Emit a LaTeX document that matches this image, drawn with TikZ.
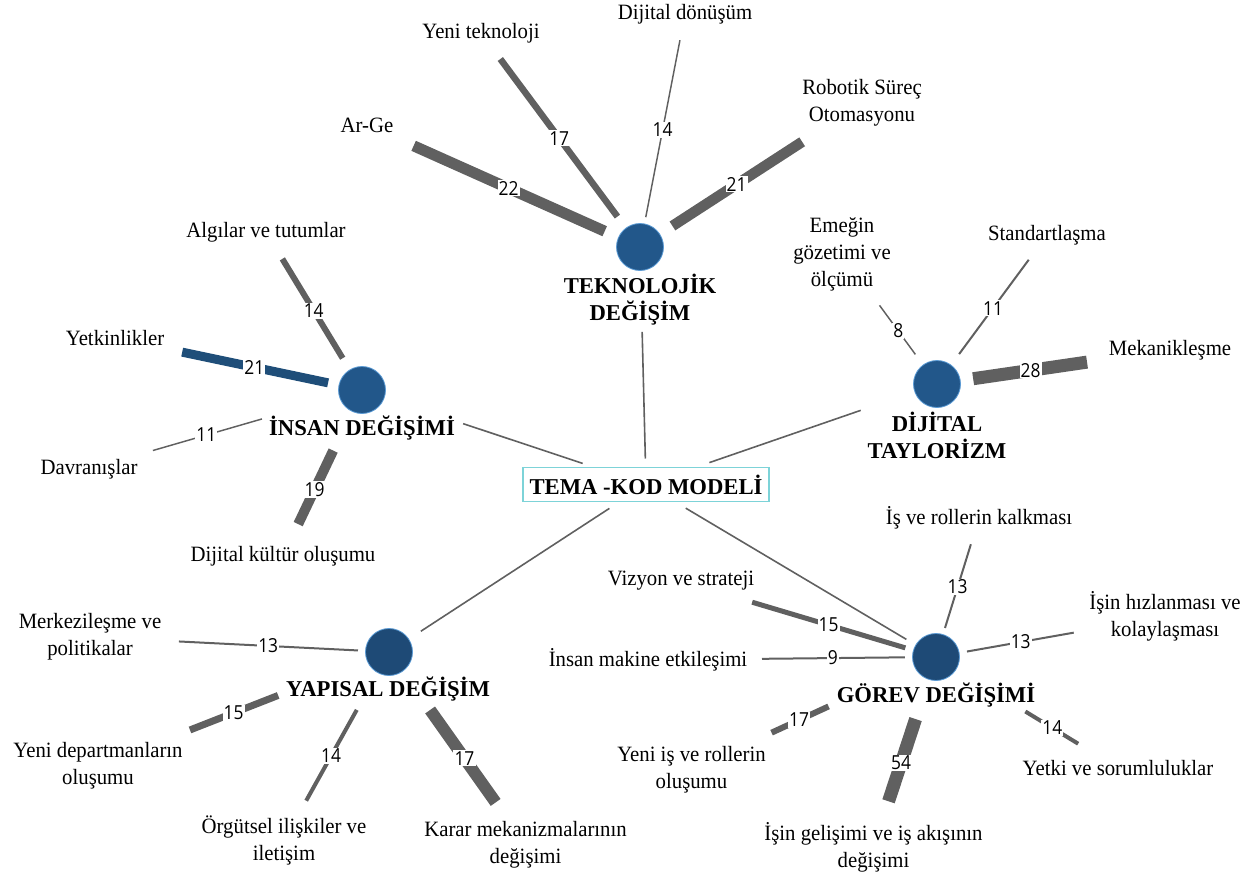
\documentclass[tikz,border=0pt]{standalone}
\usepackage{fontspec}
\setmainfont{Liberation Serif}
\newfontfamily\leaffont[FakeStretch=0.95]{Liberation Serif}
\newfontfamily\numfont[FakeStretch=0.9]{Open Sans}
\definecolor{hubblue}{HTML}{22578A}
\definecolor{hubdark}{HTML}{1E4A76}
\definecolor{hubedge}{HTML}{5B9BD5}
\definecolor{linkgray}{HTML}{606060}
\definecolor{navybar}{HTML}{1F4E79}
\definecolor{rootedge}{HTML}{7DD3D8}
\begin{document}
\begin{tikzpicture}[x=0.75pt,y=-0.75pt,
  hub/.style={circle,fill=hubblue,draw=hubedge,line width=0.6pt,minimum size=35.25pt,inner sep=0pt,outer sep=0pt},
  hubd/.style={hub,fill=hubdark},
  title/.style={font=\bfseries\fontsize{17}{20.25}\selectfont,align=center,inner sep=0pt},
  leaf/.style={font=\leaffont\fontsize{16.4}{20.25}\selectfont,align=center,inner sep=0pt},
  root/.style={draw=rootedge,line width=1.1pt,minimum width=184.5pt,minimum height=25.5pt,
    inner sep=0pt,outer sep=0pt,font=\bfseries\fontsize{17}{20.25}\selectfont},
  num/.style={font=\numfont\fontsize{14.5}{17}\selectfont,fill=white,inner sep=0.8pt},
  wire/.style n args={3}{draw=linkgray,line width=#1,shorten <=#2,shorten >=#3},
  spoke/.style 2 args={draw=linkgray,line width=1.2pt,shorten <=#1,shorten >=#2}
]
\useasboundingbox (0,0) rectangle (1259,874);

% central node
\node[root] (root) at (646,484.5) {TEMA -KOD MODELİ};

% theme hubs and their titles
\node[hub]  (tek) at (640,247) {};
\node[hub]  (ins) at (362,390) {};
\node[hub]  (dij) at (937,384) {};
\node[hubd] (yap) at (389,652) {};
\node[hubd] (gor) at (936,657) {};

\node[title] (tekT) at (640,299.5) {TEKNOLOJİK\\DEĞİŞİM};
\node[title] (insT) at (362,428) {İNSAN DEĞİŞİMİ};
\node[title] (dijT) at (937,435.5) {DİJİTAL\\TAYLORİZM};
\node[title] (yapT) at (388,689) {YAPISAL DEĞİŞİM};
\node[title] (gorT) at (936,695) {GÖREV DEĞİŞİMİ};

% code labels
\node[leaf] (arge)  at (367,125)   {Ar-Ge};
\node[leaf] (yenit) at (481,33)    {Yeni teknoloji};
\node[leaf] (dijd)  at (685,14)    {Dijital dönüşüm};
\node[leaf] (robot) at (862,103)   {Robotik Süreç\\Otomasyonu};
\node[leaf] (emek)  at (842,254)   {Emeğin\\gözetimi ve\\ölçümü};
\node[leaf] (stand) at (1047,235)  {Standartlaşma};
\node[leaf] (mekan) at (1170,350)  {Mekanikleşme};
\node[leaf] (algi)  at (266,232)   {Algılar ve tutumlar};
\node[leaf] (yetk)  at (115,338)   {Yetkinlikler};
\node[leaf] (davr)  at (89,469)    {Davranışlar};
\node[leaf] (kult)  at (283,556)   {Dijital kültür oluşumu};
\node[leaf] (merk)  at (90,637)    {Merkezileşme ve\\politikalar};
\node[leaf] (depar) at (98,766)    {Yeni departmanların\\oluşumu};
\node[leaf] (orgut) at (284,840.5) {Örgütsel ilişkiler ve\\iletişim};
\node[leaf] (karar) at (525.5,844.5) {Karar mekanizmalarının\\değişimi};
\node[leaf] (vizy)  at (681,581)   {Vizyon ve strateji};
\node[leaf] (insm)  at (648,660)   {İnsan makine etkileşimi};
\node[leaf] (kalk)  at (979,518)   {İş ve rollerin kalkması};
\node[leaf] (hizl)  at (1165,616.5) {İşin hızlanması ve\\kolaylaşması};
\node[leaf] (yeni)  at (691.5,769.5) {Yeni iş ve rollerin\\oluşumu};
\node[leaf] (gelis) at (873.5,847) {İşin gelişimi ve iş akışının\\değişimi};
\node[leaf] (yetki) at (1118,768)  {Yetki ve sorumluluklar};

% hubs to the central node
\draw[spoke={46.1pt}{6.75pt}]  (tek) -- (root);
\draw[spoke={62.3pt}{9.75pt}]  (ins) -- (root);
\draw[spoke={42.9pt}{11.25pt}] (dij) -- (root);
\draw[spoke={10.9pt}{9.45pt}]  (yap) -- (root);
\draw[spoke={8.25pt}{9.75pt}]  (gor) -- (root);

% TEKNOLOJİK DEĞİŞİM codes
\draw[wire={8.25pt}{29pt}{38.3pt}]   (tek.center) -- node[num,pos=.481]{22} (arge.center);
\draw[wire={4.9pt}{28.4pt}{24.3pt}]  (tek.center) -- node[num,pos=.508]{17} (yenit.center);
\draw[wire={1.1pt}{22.8pt}{20pt}]    (tek.center) -- node[num,pos=.502]{14} (dijd.center);
\draw[wire={7.9pt}{29pt}{53.5pt}]    (tek.center) -- node[num,pos=.435]{21} (robot.center);

% İNSAN DEĞİŞİMİ codes
\draw[wire={4.5pt}{27.9pt}{23.6pt}]  (ins.center) -- node[num,pos=.503]{14} (algi.center);
\draw[wire={6.75pt}{26pt}{51.5pt},draw=navybar] (ins.center) -- node[num,pos=.436]{21} (yetk.center);
\draw[wire={1.1pt}{78.1pt}{49.9pt}]  (ins.center) -- node[num,pos=.570]{11} (davr.center);
\draw[wire={7.5pt}{50.3pt}{26.5pt}]  (ins.center) -- node[num,pos=.599]{19} (kult.center);

% DİJİTAL TAYLORİZM codes
\draw[wire={1.1pt}{27.5pt}{47.7pt}]  (dij.center) -- node[num,pos=.407]{8} (emek.center);
\draw[wire={1.5pt}{27.9pt}{23.1pt}]  (dij.center) -- node[num,pos=.509]{11} (stand.center);
\draw[wire={9.75pt}{27.4pt}{62.9pt}] (dij.center) -- node[num,pos=.402]{28} (mekan.center);

% YAPISAL DEĞİŞİM codes
\draw[wire={1.5pt}{23.3pt}{66.8pt}]  (yap.center) -- node[num,pos=.404]{13} (merk.center);
\draw[wire={5.25pt}{89.3pt}{74.1pt}] (yap.center) -- node[num,pos=.534]{15} (depar.center);
\draw[wire={3pt}{49.7pt}{34.2pt}]    (yap.center) -- node[num,pos=.551]{14} (orgut.center);
\draw[wire={9pt}{53.3pt}{38.7pt}]    (yap.center) -- node[num,pos=.553]{17} (karar.center);

% GÖREV DEĞİŞİMİ codes
\draw[wire={1.5pt}{22.8pt}{20.6pt}]  (gor.center) -- node[num,pos=.504]{13} (kalk.center);
\draw[wire={1.5pt}{23.6pt}{69.5pt}]  (gor.center) -- node[num,pos=.370]{13} (hizl.center);
\draw[wire={3.75pt}{24pt}{55.7pt}]   (gor.center) -- node[num,pos=.421]{15} (vizy.center);
\draw[wire={1.5pt}{23.3pt}{85.5pt}]  (gor.center) -- node[num,pos=.358]{9} (insm.center);
\draw[wire={4.5pt}{88.7pt}{66.1pt}]  (gor.center) -- node[num,pos=.560]{17} (yeni.center);
\draw[wire={9.75pt}{49pt}{36.1pt}]   (gor.center) -- node[num,pos=.558]{54} (gelis.center);
\draw[wire={3pt}{78.5pt}{35pt}]      (gor.center) -- node[num,pos=.639]{14} (yetki.center);
\end{tikzpicture}
\end{document}
